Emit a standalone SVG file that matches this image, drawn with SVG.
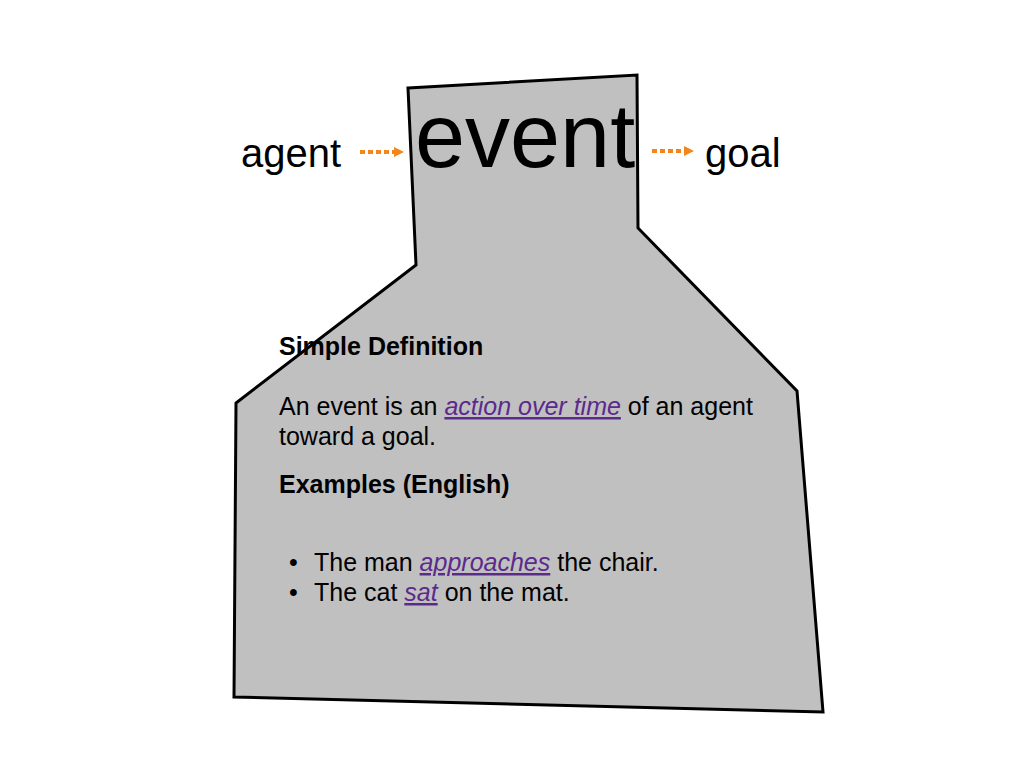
<svg xmlns="http://www.w3.org/2000/svg" width="1024" height="768" viewBox="0 0 1024 768">
<style>
  text { font-family: "Liberation Sans", Arial, sans-serif; fill: #000; }
  .big { font-size: 40px; }
  .huge { font-size: 90px; }
  .body { font-size: 25px; }
  .bold { font-weight: bold; }
  .link { fill: #5b2a8c; font-style: italic; text-decoration: underline; }
  .shape-fill { fill: #c0c0c0; stroke: none; }
  .shape-line { fill: none; stroke: #000; stroke-width: 3; stroke-linejoin: miter; }
  .conn { stroke: #f0861c; stroke-width: 4; stroke-dasharray: 5 3; fill: none; }
</style>
<defs>
  <marker id="arrow" markerUnits="userSpaceOnUse" markerWidth="12" markerHeight="12" refX="0" refY="6" orient="auto">
    <polygon points="0,1 10,6 0,11" fill="#f0861c"/>
  </marker>
</defs>
<rect width="1024" height="768" fill="#fff"/>
<g id="event-shape">
  <polygon class="shape-fill" points="408,88 637,75 638,228 797,391 823,712 234,697 236,403 416,265"/>
</g>
<g id="agent"><text class="big" x="241" y="167">agent</text></g>
<g id="event"><text class="huge" x="415" y="167">event</text></g>
<g id="goal"><text class="big" x="705" y="167">goal</text></g>
<g id="definition">
  <text class="body bold" x="279" y="355">Simple Definition</text>
  <text class="body" x="279" y="415">An event is an <tspan class="link">action over time</tspan> of an agent</text>
  <text class="body" x="279" y="445">toward a goal.</text>
  <text class="body bold" x="279" y="493">Examples (English)</text>
  <text class="body" x="289" y="571">•</text>
  <text class="body" x="314" y="571">The man <tspan class="link">approaches</tspan> the chair.</text>
  <text class="body" x="289" y="601">•</text>
  <text class="body" x="314" y="601">The cat <tspan class="link">sat</tspan> on the mat.</text>
</g>
<g id="event-outline">
  <polygon class="shape-line" points="408,88 637,75 638,228 797,391 823,712 234,697 236,403 416,265"/>
</g>
<g id="connectors">
  <line class="conn" x1="360" y1="152" x2="394" y2="152" marker-end="url(#arrow)"/>
  <line class="conn" x1="652" y1="151" x2="684" y2="151" marker-end="url(#arrow)"/>
</g>
</svg>
